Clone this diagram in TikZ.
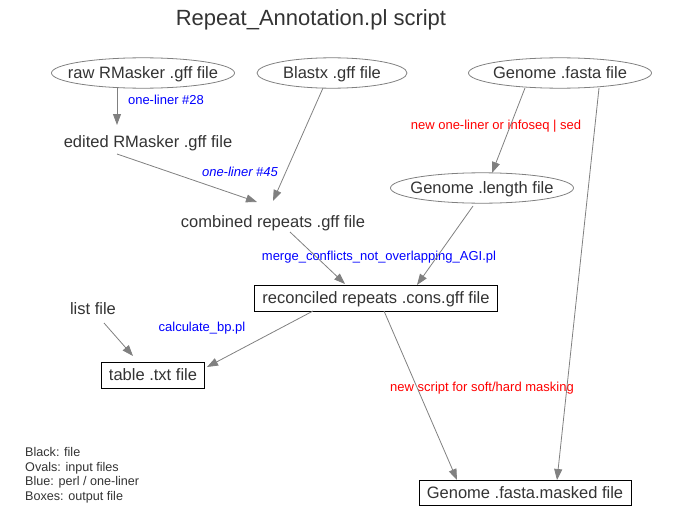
\documentclass[tikz,border=0pt]{standalone}
\usepackage{fontspec}
\setmainfont{Liberation Sans}
\usetikzlibrary{arrows.meta}
\definecolor{txtgray}{HTML}{333333}
\definecolor{edgegray}{HTML}{808080}
\definecolor{linkblue}{HTML}{0000FF}
\definecolor{newred}{HTML}{FF0000}

\begin{document}
\begin{tikzpicture}[x=1pt,y=-1pt,
    every node/.style={text=txtgray,inner sep=0pt},
    bigtxt/.style={font=\fontsize{16.5}{18}\selectfont,text height=14.9pt,text depth=3pt},
    smalltxt/.style={font=\fontsize{13}{15}\selectfont,text height=11.7pt,text depth=2.3pt},
    infile/.style={bigtxt},
    midfile/.style={bigtxt},
    outfile/.style={bigtxt,rectangle,draw=black,line width=.9pt},
    perl/.style={smalltxt,text=linkblue},
    todo/.style={smalltxt,text=newred},
    oval/.style={draw=edgegray,line width=.8pt},
    flow/.style={draw=edgegray,line width=.8pt,-{Triangle[length=11pt,width=8pt]}}]
    \useasboundingbox (0,0) rectangle (693,519);
\node[font=\fontsize{22}{24}\selectfont,text height=19.8pt,text depth=4pt] (Title) at (311,18) {Repeat\_Annotation.pl script};
    \node[infile] (RawRM) at (143,73) {raw RMasker .gff file};
    \node[infile] (Blastx) at (332,73) {Blastx .gff file};
    \node[infile] (Fasta) at (560,73) {Genome .fasta file};
    \node[infile] (Length) at (482,188) {Genome .length file};
    \node[midfile] (EditRM) at (148,142) {edited RMasker .gff file};
    \node[midfile] (Combined) at (273,222) {combined repeats .gff file};
    \node[midfile] (List) at (93,309) {list file};
    \node[outfile,minimum width=243,minimum height=26] (Recon) at (376,298) {reconciled repeats .cons.gff file};
    \node[outfile,minimum width=103,minimum height=26] (Table) at (153,375) {table .txt file};
    \node[outfile,minimum width=212,minimum height=25] (Masked) at (525,493) {Genome .fasta.masked file};

    \foreach \n/\rx in {RawRM/91.5,Blastx/75,Fasta/91.5,Length/91.5}
      \draw[oval] (\n.center) ellipse [x radius=\rx pt,y radius=15.2pt];

    \node[perl] (L28) at (166,100) {one-liner \#28};
    \node[perl,font=\fontsize{13}{15}\selectfont\itshape] (L45) at (240,172) {one-liner \#45};
    \node[todo] (LSeq) at (496,125) {new one-liner or infoseq | sed};
    \node[perl] (LMerge) at (379,256) {merge\_conflicts\_not\_overlapping\_AGI.pl};
    \node[perl] (LCalc) at (202,327) {calculate\_bp.pl};
    \node[todo] (LMask) at (482,387) {new script for soft/hard masking};
    \node[anchor=north west,align=left,font=\fontsize{12.6}{14.5}\selectfont] (Legend) at (25,447.5)
      {Black: file\\Ovals: input files\\Blue: perl / one-liner\\Boxes: output file};

    \draw[flow]
([shift={(-26,15)}]RawRM.center) to ([shift={(-31,-17)}]EditRM.center);
    \draw[flow]
([shift={(-31,12)}]EditRM.center) to ([shift={(-16,-20)}]Combined.center);
    \draw[flow]
([shift={(-9,15)}]Blastx.center) to ([shift={(0,-21)}]Combined.center);
    \draw[flow]
([shift={(-35,15)}]Fasta.center) to ([shift={(10,-15)}]Length.center);
    \draw[flow]
([shift={(39,15)}]Fasta.center) to ([shift={(32,-13)}]Masked.center);
    \draw[flow]
([shift={(-9,18)}]Length.center) to ([shift={(41,-13)}]Recon.center);
    \draw[flow]
([shift={(17,10)}]Combined.center) to ([shift={(-31,-14)}]Recon.center);
    \draw[flow]
([shift={(-63,13)}]Recon.center) to ([shift={(54,-8)}]Table.center);
    \draw[flow]
([shift={(11,14)}]List.center) to ([shift={(-20,-19)}]Table.center);
    \draw[flow]
([shift={(8,13)}]Recon.center) to ([shift={(-68,-13)}]Masked.center);
\end{tikzpicture}
\end{document}
